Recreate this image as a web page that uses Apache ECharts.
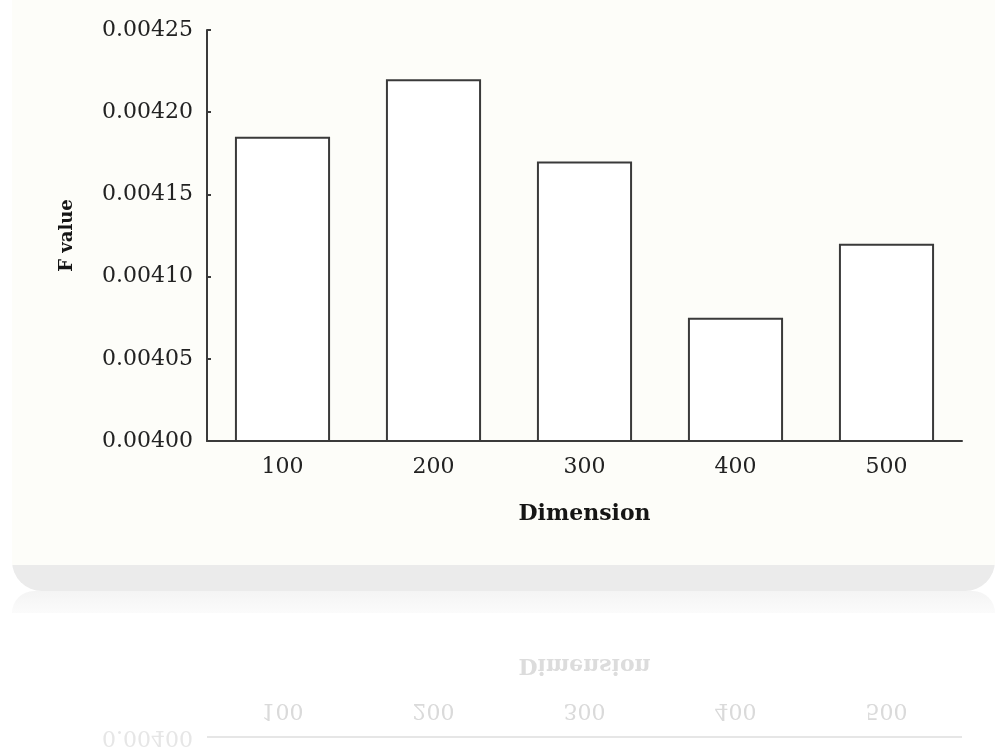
<!DOCTYPE html>
<html>
<head>
<meta charset="utf-8">
<script src="https://cdn.jsdelivr.net/npm/echarts@6/dist/echarts.min.js"></script>
<style>
html,body{margin:0;padding:0;background:#ffffff;}
#chart{width:1005px;height:747px;}
</style>
</head>
<body>
<div id="chart"></div>
<script>
// ---- data ----
const categories = ['100', '200', '300', '400', '500'];
const fValues = [0.004185, 0.00422, 0.00417, 0.004075, 0.00412];
const yTicks = [0.00400, 0.00405, 0.00410, 0.00415, 0.00420, 0.00425];
const xName = 'Dimension';
const yName = 'F value';

const FONT = 'DejaVu Serif';
const AXIS_COLOR = '#3a3a3a';
const TEXT_COLOR = '#222222';

const chart = echarts.init(document.getElementById('chart'), null, {renderer: 'canvas'});

const option = {
  backgroundColor: 'transparent',
  animation: false,
  grid: {left: 207, right: 43, top: 30, bottom: 306},
  xAxis: {
    type: 'category',
    data: categories,
    name: xName,
    nameLocation: 'middle',
    nameGap: 62,
    nameTextStyle: {fontFamily: FONT, fontWeight: 'bold', fontSize: 22, color: '#151515'},
    axisLine: {lineStyle: {color: AXIS_COLOR, width: 2}},
    axisTick: {show: false},
    axisLabel: {fontFamily: FONT, fontSize: 22, color: TEXT_COLOR, margin: 15},
    splitLine: {show: false}
  },
  yAxis: {
    type: 'value',
    min: yTicks[0],
    max: yTicks[yTicks.length - 1],
    interval: yTicks[1] - yTicks[0],
    name: yName,
    nameLocation: 'middle',
    nameGap: 131,
    nameTextStyle: {fontFamily: FONT, fontWeight: 'bold', fontSize: 18, color: '#151515'},
    axisLine: {show: true, lineStyle: {color: AXIS_COLOR, width: 2}},
    axisTick: {show: true, inside: true, length: 4, lineStyle: {color: AXIS_COLOR, width: 2}},
    axisLabel: {fontFamily: FONT, fontSize: 22, color: TEXT_COLOR, margin: 14,
      formatter: v => v.toFixed(5)},
    splitLine: {show: false}
  },
  series: [{
    type: 'bar',
    data: fValues,
    barWidth: '63%',
    itemStyle: {color: '#ffffff', borderColor: '#3a3a3a', borderWidth: 2}
  }],
  graphic: []
};
chart.setOption(option);

// ---- decorative page background: panel, shadow band and faint reflection ----
const panelBottom = 565;
const mirrorY = 589;
const deco = [
  {type: 'rect', z: -10, silent: true, shape: {x: 12, y: 0, width: 983, height: panelBottom + 26, r: [0, 0, 30, 30]},
   style: {fill: '#ebebeb'}},
  {type: 'rect', z: -9, silent: true, shape: {x: 12, y: 0, width: 983, height: panelBottom},
   style: {fill: '#fdfdf9'}},
  {type: 'rect', z: -10, silent: true, shape: {x: 12, y: mirrorY + 2, width: 983, height: 22, r: [30, 30, 0, 0]},
   style: {fill: new echarts.graphic.LinearGradient(0, 0, 0, 1, [{offset: 0, color: '#f4f4f4'}, {offset: 1, color: '#fbfbfb'}])}}
];

// reflected texts (mirror of x labels, x name, bottom y label and axis line)
const refl = [];
const baseY = chart.convertToPixel({yAxisIndex: 0}, yTicks[0]);
categories.forEach((c) => {
  const x = chart.convertToPixel({xAxisIndex: 0}, c);
  refl.push({type: 'text', x: x, y: baseY + 27, style: {text: c, font: '22px "' + FONT + '"', fill: '#dadada', align: 'center', verticalAlign: 'middle'}});
});
const midX = (chart.convertToPixel({xAxisIndex: 0}, categories[0]) + chart.convertToPixel({xAxisIndex: 0}, categories[categories.length - 1])) / 2;
refl.push({type: 'text', x: midX, y: baseY + 72, style: {text: xName, font: 'bold 22px "' + FONT + '"', fill: '#dcdcdc', align: 'center', verticalAlign: 'middle'}});
refl.push({type: 'text', x: 193, y: baseY, style: {text: yTicks[0].toFixed(5), font: '22px "' + FONT + '"', fill: '#e6e6e6', align: 'right', verticalAlign: 'middle'}});
refl.push({type: 'line', shape: {x1: 207, y1: baseY, x2: 962, y2: baseY}, style: {stroke: '#e6e6e6', lineWidth: 2}});

deco.push({
  type: 'group', silent: true, z: -5,
  originX: 0, originY: mirrorY, scaleY: -1,
  children: refl
});
chart.setOption({graphic: deco});
</script>
</body>
</html>
